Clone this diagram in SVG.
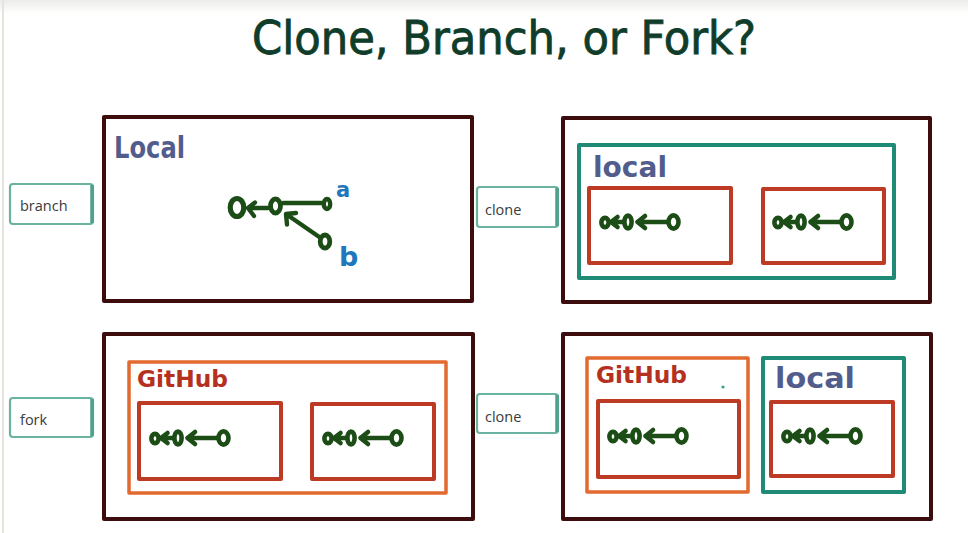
<svg xmlns="http://www.w3.org/2000/svg" xmlns:xlink="http://www.w3.org/1999/xlink" width="968" height="533" viewBox="0 0 968 533">
  <defs>
    <linearGradient id="topfade" x1="0" y1="0" x2="0" y2="1">
      <stop offset="0" stop-color="#ececea"/>
      <stop offset="1" stop-color="#ffffff"/>
    </linearGradient>
    <g id="commits" fill="none" stroke="#1d4d17" stroke-width="4.6" stroke-linecap="round" stroke-linejoin="round">
      <ellipse cx="5" cy="0.5" rx="3.6" ry="4.6"/>
      <path d="M11 0 L17.5 -5 M11 0 L17.5 5 M11 0 L23 0"/>
      <ellipse cx="28" cy="0" rx="3.6" ry="6.4"/>
      <path d="M37.5 0 L45 -6 M37.5 0 L45 6 M37.5 0 L67 0"/>
      <ellipse cx="73.5" cy="0" rx="5" ry="6.6"/>
    </g>
    <style>
      .frame { fill: none; stroke: #3d0c0c; stroke-width: 4; stroke-linejoin: round; }
      .teal { fill: none; stroke: #1f8a76; stroke-width: 4; stroke-linejoin: round; }
      .red { fill: none; stroke: #bd3a25; stroke-width: 4; stroke-linejoin: round; }
      .orange { fill: none; stroke: #e2692f; stroke-width: 3.5; stroke-linejoin: round; }
      .tag { fill: #ffffff; stroke: #69b3a0; stroke-width: 2.2; }
      .tagedge { stroke: #4e9f8b; stroke-width: 3.5; }
      .tagtxt { font-family: "Open Sans", "Liberation Sans", sans-serif; font-size: 14.5px; fill: #3a3a3a; }
      .hand { font-family: "DejaVu Sans Condensed", "DejaVu Sans", sans-serif; font-weight: bold; }
      .lbl-local { fill: #525d8c; }
      .lbl-git { fill: #b5301f; }
      .title { font-family: "DejaVu Sans Condensed", "DejaVu Sans", sans-serif; font-size: 46px; fill: #0f3d2a; stroke: #0f3d2a; stroke-width: 0.8; }
      .branchline { fill: none; stroke: #1d4d17; stroke-width: 4.4; stroke-linecap: round; stroke-linejoin: round; }
      .commit { fill: none; stroke: #1d4d17; }
      .blue { font-family: "DejaVu Sans", sans-serif; font-weight: bold; fill: #1f78bd; }
    </style>
  </defs>

  <rect x="0" y="0" width="968" height="533" fill="#ffffff"/>
  <rect x="0" y="0" width="968" height="14" fill="url(#topfade)"/>
  <line x1="3" y1="0" x2="3" y2="533" stroke="#e6e3dc" stroke-width="2"/>

  <g id="title">
    <text class="title" x="252" y="54" textLength="504" lengthAdjust="spacingAndGlyphs">Clone, Branch, or Fork?</text>
  </g>

  <!-- Left tags -->
  <g id="tag-branch">
    <rect class="tag" x="10" y="184" width="83" height="40" rx="3"/>
    <line class="tagedge" x1="92" y1="185" x2="92" y2="223"/>
    <text class="tagtxt" x="20" y="211">branch</text>
  </g>
  <g id="tag-fork">
    <rect class="tag" x="10" y="398" width="83" height="39" rx="3"/>
    <line class="tagedge" x1="92" y1="399" x2="92" y2="436"/>
    <text class="tagtxt" x="20" y="425">fork</text>
  </g>
  <g id="tag-clone-top">
    <rect class="tag" x="477" y="187" width="81" height="40" rx="3"/>
    <line class="tagedge" x1="557" y1="188" x2="557" y2="226"/>
    <text class="tagtxt" x="485" y="214.5">clone</text>
  </g>
  <g id="tag-clone-bottom">
    <rect class="tag" x="477" y="394" width="81" height="39" rx="3"/>
    <line class="tagedge" x1="557" y1="395" x2="557" y2="432"/>
    <text class="tagtxt" x="485" y="421.5">clone</text>
  </g>

  <!-- Panel 1: branch -->
  <g id="panel-branch">
    <rect class="frame" x="104" y="117" width="368" height="184"/>
    <text class="hand lbl-local" x="114" y="158" font-size="30" textLength="71" lengthAdjust="spacingAndGlyphs">Local</text>
    <ellipse class="commit" cx="237" cy="207.5" rx="6.8" ry="9" stroke-width="5.2"/>
    <ellipse class="commit" cx="275.5" cy="206" rx="5" ry="7" stroke-width="4.8"/>
    <ellipse class="commit" cx="327" cy="204" rx="3.2" ry="5" stroke-width="4.4"/>
    <ellipse class="commit" cx="325" cy="241.5" rx="4.8" ry="6.5" stroke-width="4.8"/>
    <text class="blue" x="336" y="197" font-size="21">a</text>
    <text class="blue" x="339" y="266" font-size="27">b</text>
  </g>

  <!-- Panel 2: clone -->
  <g id="panel-clone-local">
    <rect class="frame" x="563" y="118" width="367" height="184"/>
    <rect class="teal" x="579" y="145" width="315" height="133"/>
    <text class="hand lbl-local" x="593" y="177" font-size="29" textLength="74" lengthAdjust="spacingAndGlyphs">local</text>
    <rect class="red" x="589" y="188" width="142" height="75"/>
    <rect class="red" x="763" y="189" width="121" height="74"/>
    <use xlink:href="#commits" href="#commits" x="600" y="222"/>
    <use xlink:href="#commits" href="#commits" x="773" y="222"/>
  </g>

  <!-- Panel 3: fork -->
  <g id="panel-fork">
    <rect class="frame" x="104" y="334" width="369" height="185"/>
    <rect class="orange" x="129" y="362" width="317" height="131"/>
    <text class="hand lbl-git" x="137" y="387" font-size="23" textLength="91" lengthAdjust="spacingAndGlyphs">GitHub</text>
    <rect class="red" x="139" y="403" width="142" height="76"/>
    <rect class="red" x="312" y="404" width="122" height="75"/>
    <use xlink:href="#commits" href="#commits" x="150" y="438"/>
    <use xlink:href="#commits" href="#commits" x="323" y="438"/>
  </g>

  <!-- Panel 4: fork + clone -->
  <g id="panel-fork-clone">
    <rect class="frame" x="563" y="334" width="368" height="185"/>
    <rect class="orange" x="587" y="358" width="161" height="134"/>
    <text class="hand lbl-git" x="596" y="383" font-size="23" textLength="91" lengthAdjust="spacingAndGlyphs">GitHub</text>
    <circle cx="723" cy="387" r="1.6" fill="#3aa08c"/>
    <rect class="red" x="598" y="401" width="141" height="76"/>
    <use xlink:href="#commits" href="#commits" x="608" y="436"/>
    <rect class="teal" x="763" y="358" width="141" height="134"/>
    <text class="hand lbl-local" x="775" y="388" font-size="29" textLength="80" lengthAdjust="spacingAndGlyphs">local</text>
    <rect class="red" x="771" y="402" width="122" height="74"/>
    <use xlink:href="#commits" href="#commits" x="782" y="436"/>
  </g>

  <!-- Connectors: commit arrows of the branch graph -->
  <g id="connectors">
    <path class="branchline" d="M248 208 L268 208 M248 208 L255 202.5 M248 208 L254 216"/>
    <path class="branchline" d="M283 203 L322 203"/>
    <path class="branchline" d="M286 214 L320 237.5 M286 214 L287 224.5 M286 214 L296 213"/>
  </g>
</svg>
